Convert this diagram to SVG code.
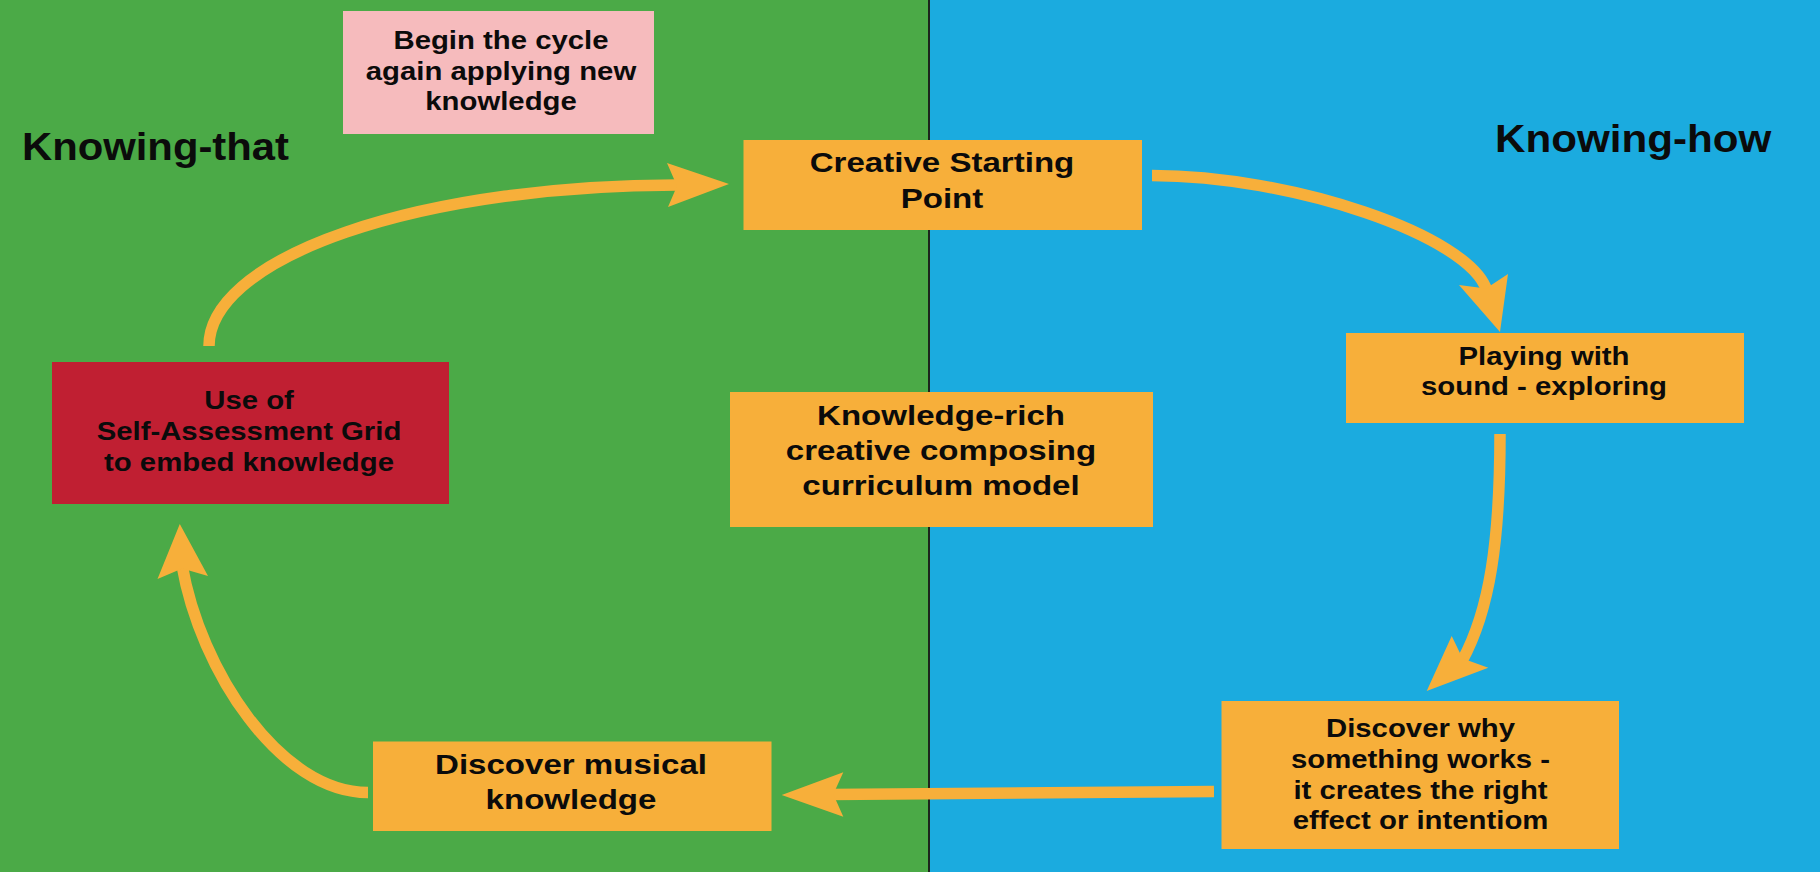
<svg xmlns="http://www.w3.org/2000/svg" width="1820" height="872" viewBox="0 0 1820 872">
<style>
text{font-family:"Liberation Sans",Arial,Helvetica,sans-serif;font-weight:bold;fill:#0b0b0b}
.s{font-size:25.5px}
.l{font-size:28.5px}
.h{font-size:38px}
.orange{fill:#F7AF3A}
.pink{fill:#F6BBBD}
.red{fill:#C01F32}
.shaft{fill:none;stroke:#F7AF3A;stroke-width:11.5;stroke-linecap:butt}
.head{fill:#F7AF3A}
</style>
<g id="background">
<rect x="0" y="0" width="929" height="872" fill="#4BAA47"/>
<rect x="929" y="0" width="891" height="872" fill="#1BABDF"/>
<line x1="929" y1="0" x2="929" y2="872" stroke="#1c261c" stroke-width="2"/>
</g>
<g id="label-knowing-that">
<g transform="translate(22,0) scale(1.1,1)"><text class="h" x="0" y="160.5">Knowing-that</text></g>
</g>
<g id="label-knowing-how">
<g transform="translate(1495,0) scale(1.11,1)"><text class="h" x="0" y="152.5">Knowing-how</text></g>
</g>
<g id="connectors">
<path class="shaft" d="M209,346 A468,161 0 0 1 677,185 L681,185"/>
<polygon class="head" points="729,184 667,163 677,186 668,207"/>
<path class="shaft" d="M1152,175.5 C1290,175.5 1470,235 1487,291"/>
<polygon class="head" points="1500,332 1459,285 1486,288.5 1508,274"/>
<path class="shaft" d="M1500,434 C1500,540 1490,610 1462,661"/>
<polygon class="head" points="1426.7,691 1451.7,636 1462.6,658.5 1488.3,667.7"/>
<path class="shaft" d="M1214,791.5 L830,794.5"/>
<polygon class="head" points="781.7,795 843.3,772.3 833.3,794.3 843.3,816.7"/>
<path class="shaft" d="M368,792.5 C280,792.5 200,670 182,565"/>
<polygon class="head" points="179.8,524 157.5,579 182.2,568.4 208,576"/>
</g>
<g id="node-begin-again">
<rect class="pink" x="343" y="11" width="311" height="123"/>
<g transform="translate(501,0) scale(1.15,1)" text-anchor="middle">
<text class="s" x="0" y="49">Begin the cycle</text>
<text class="s" x="0" y="80">again applying new</text>
<text class="s" x="0" y="110">knowledge</text>
</g>
</g>
<g id="node-creative-start">
<rect class="orange" x="743.5" y="140" width="398.5" height="90"/>
<g transform="translate(942,0) scale(1.16,1)" text-anchor="middle">
<text class="l" x="0" y="172.3">Creative Starting</text>
<text class="l" x="0" y="207.7">Point</text>
</g>
</g>
<g id="node-self-assessment">
<rect class="red" x="52" y="362" width="397" height="142"/>
<g transform="translate(249,0) scale(1.15,1)" text-anchor="middle">
<text class="s" x="0" y="409.5">Use of</text>
<text class="s" x="0" y="440.5">Self-Assessment Grid</text>
<text class="s" x="0" y="471.5">to embed knowledge</text>
</g>
</g>
<g id="node-knowledge-rich">
<rect class="orange" x="730" y="392" width="423" height="135"/>
<g transform="translate(941,0) scale(1.16,1)" text-anchor="middle">
<text class="l" x="0" y="425">Knowledge-rich</text>
<text class="l" x="0" y="460">creative composing</text>
<text class="l" x="0" y="495">curriculum model</text>
</g>
</g>
<g id="node-playing">
<rect class="orange" x="1346" y="333" width="398" height="90"/>
<g transform="translate(1544,0) scale(1.15,1)" text-anchor="middle">
<text class="s" x="0" y="365">Playing with</text>
<text class="s" x="0" y="395">sound - exploring</text>
</g>
</g>
<g id="node-discover-why">
<rect class="orange" x="1221.5" y="701" width="397.5" height="148"/>
<g transform="translate(1420.5,0) scale(1.15,1)" text-anchor="middle">
<text class="s" x="0" y="736.7">Discover why</text>
<text class="s" x="0" y="768">something works -</text>
<text class="s" x="0" y="799">it creates the right</text>
<text class="s" x="0" y="829">effect or intentiom</text>
</g>
</g>
<g id="node-discover-musical">
<rect class="orange" x="373" y="741.5" width="398.5" height="89.5"/>
<g transform="translate(571,0) scale(1.16,1)" text-anchor="middle">
<text class="l" x="0" y="774">Discover musical</text>
<text class="l" x="0" y="809">knowledge</text>
</g>
</g>
</svg>
